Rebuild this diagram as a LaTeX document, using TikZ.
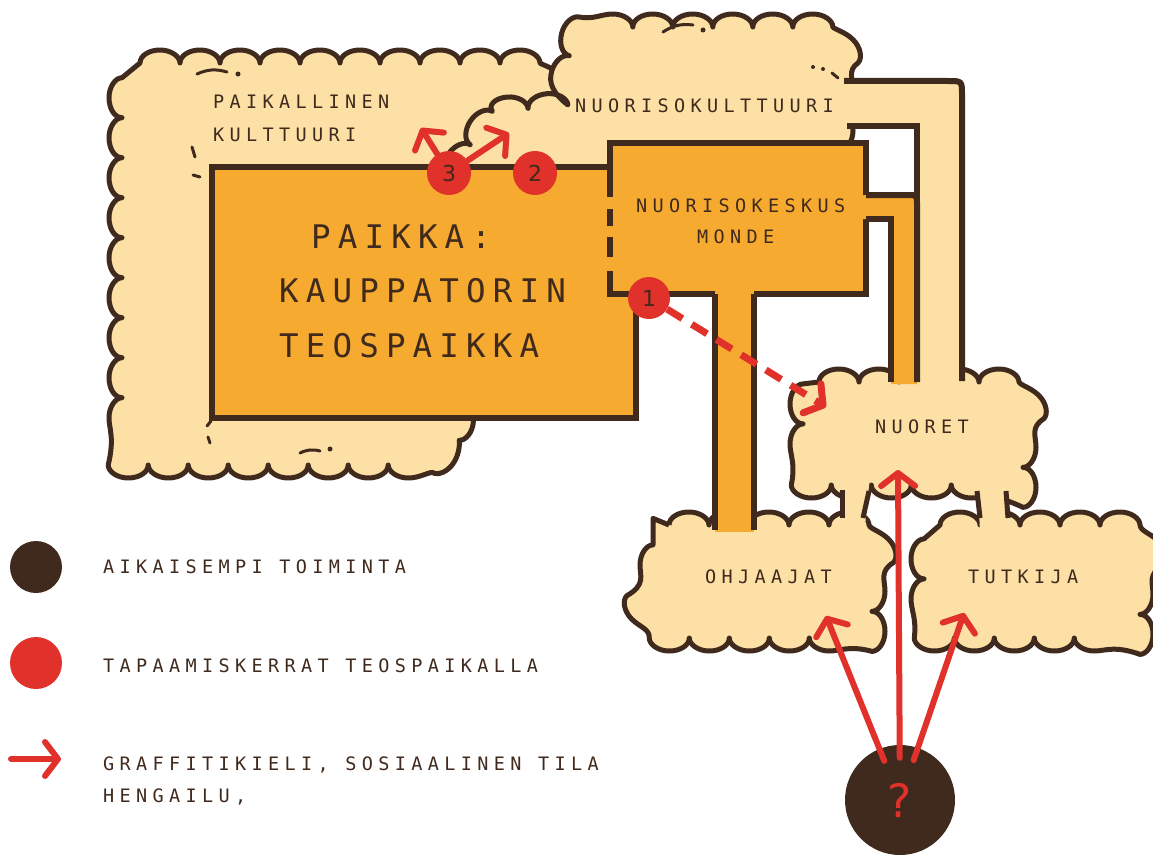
\documentclass[tikz,border=0pt]{standalone}
\usepackage{fontspec}
\usetikzlibrary{arrows.meta,decorations.pathmorphing,positioning}

\newfontfamily\smallfont[LetterSpace=29]{DejaVu Sans Mono}
\newfontfamily\bigfont[LetterSpace=22]{DejaVu Sans Mono}
\newfontfamily\numfont{DejaVu Sans}

\definecolor{darkbrown}{HTML}{3F2A1D}
\definecolor{cream}{HTML}{FDE0A6}
\definecolor{placeorange}{HTML}{F6AA30}
\definecolor{meetred}{HTML}{E0312B}

\tikzset{
  cloudpart/.style={fill=cream, draw=darkbrown, line width=5pt, line join=round,
    decoration={bumps, segment length=80pt, amplitude=13pt}, decorate},
  wall/.style={draw=darkbrown, line width=6pt},
  cloudmark/.style={draw=darkbrown, line width=3pt, line cap=round},
  lbl/.style={font=\smallfont\fontsize{18.5}{18.5}\selectfont, text=darkbrown, anchor=base west, inner sep=0pt},
  biglbl/.style={font=\bigfont\fontsize{32.5}{32.5}\selectfont, text=darkbrown, anchor=base west, inner sep=0pt},
  meeting/.style={circle, fill=meetred, minimum size=44pt, inner sep=0pt, text=darkbrown,
    font=\numfont\fontsize{22}{22}\selectfont},
  redarrow/.style={draw=meetred, line width=6pt, line cap=round,
    -{Straight Barb[length=13pt, width=34pt, round]}},
}

\begin{document}
\begin{tikzpicture}[x=1pt, y=-1pt]
\useasboundingbox (0,0) rectangle (1153,856);

% clouds
\path[cloudpart] (140,63) -- (530,63) -- (545,78) -- (545,200) -- (468,300) -- (460,428)
  -- (437,465) -- (145,465) -- (122,442) -- (122,82) -- cycle;
\path[cloudpart] (448,178) -- (476,136) -- (484,112) -- (556,106) -- (572,45) -- (588,27)
  -- (822,27) -- (840,45) -- (840,140) -- (842,200) -- (448,200) -- cycle;
\path[cloudpart] (819,382) -- (1007,382) -- (1023,398) -- (1023,469) -- (1007,485)
  -- (819,485) -- (803,469) -- (803,398) -- cycle;
\path[cloudpart] (669,525) -- (856,525) -- (872,541) -- (872,622) -- (856,638)
  -- (669,638) -- (653,622) -- (653,541) -- cycle;
\path[cloudpart] (940,525) -- (1124,525) -- (1140,541) -- (1140,622) -- (1124,638)
  -- (940,638) -- (924,622) -- (924,541) -- cycle;

% little marks in the clouds
\draw[cloudmark] (197,74) to[bend left=20] (227,72);
\fill[darkbrown] (238,74) circle (2.5pt);
\draw[cloudmark] (192,147) -- (195,157);
\draw[cloudmark] (193,175) -- (200,177);
\draw[cloudmark] (207,426) -- (211,421);
\draw[cloudmark] (208,437) -- (210,443);
\draw[cloudmark] (300,453) to[bend left=20] (320,451);
\fill[darkbrown] (330,449) circle (2.5pt);
\draw[cloudmark] (663,32) to[bend left=20] (693,25);
\fill[darkbrown] (703,30) circle (2.5pt);
\fill[darkbrown] (813,67) circle (2pt);
\fill[darkbrown] (823,69) circle (2pt);
\draw[cloudmark] (832,73) -- (838,78);

% legs between the clouds
\fill[cream] (842,476) -- (870,476) -- (864,536) -- (842,536) -- cycle;
\draw[wall, line width=5pt] (842,490) -- (842,518);
\draw[wall, line width=5pt] (869,491) -- (863,518);
\fill[cream] (978,476) -- (1007,476) -- (1009,536) -- (980,536) -- cycle;
\draw[wall, line width=5pt] (977,491) -- (980,518);
\draw[wall, line width=5pt] (1006,491) -- (1008,518);

% cream pipe
\fill[cream] (815,81) -- (948,81) .. controls (962,81) .. (962,95) -- (962,392)
  -- (917,392) -- (917,126) -- (815,126) -- cycle;
\draw[wall] (844,81) -- (948,81) .. controls (962,81) .. (962,95) -- (962,381);
\draw[wall] (847,126) -- (917,126) -- (917,381);

% place
\filldraw[fill=placeorange, wall] (212,167) rectangle (636,418);

% youth centre
\fill[placeorange] (610,143) rectangle (866,294);
\draw[wall] (610,197) -- (610,143) -- (866,143) -- (866,195);
\draw[wall] (866,219) -- (866,294) -- (754,294);
\draw[wall] (715,294) -- (610,294) -- (610,271);
\foreach \ya/\yb in {209/226,237/257}
  \draw[wall] (610,\ya) -- (610,\yb);

% orange pipe
\fill[placeorange] (862,195) -- (907,195) .. controls (917,195) .. (917,205)
  -- (917,384) -- (891,384) -- (891,219) -- (862,219) -- cycle;
\draw[wall] (866,195) -- (907,195) .. controls (917,195) .. (917,205) -- (917,382);
\draw[wall] (866,219) -- (891,219) -- (891,382);

% stem down to the leaders
\fill[placeorange] (715,290) rectangle (754,532);
\draw[wall] (715,294) -- (715,530);
\draw[wall] (754,294) -- (754,530);

% labels
\node[lbl] (paikallinen) at (213,109) {PAIKALLINEN};
\node[lbl] (kulttuuri) at (213,142) {KULTTUURI};
\node[lbl] (nuorisokult) at (575,113) {NUORISOKULTTUURI};
\node[lbl] (keskus) at (636,212) {NUORISOKESKUS};
\node[lbl] (monde) at (697,243) {MONDE};
\node[biglbl] (paikka) at (311,248) {PAIKKA:};
\node[biglbl] (kauppatori) at (279,302) {KAUPPATORIN};
\node[biglbl] (teospaikka) at (279,357) {TEOSPAIKKA};
\node[lbl] (nuoret) at (875,433) {NUORET};
\node[lbl] (ohjaajat) at (705,583) {OHJAAJAT};
\node[lbl] (tutkija) at (968,583) {TUTKIJA};

% meetings
\node[meeting] (m3) at (449,173) {3};
\node[meeting] (m2) at (535,173) {2};
\node[meeting, minimum size=42pt] (m1) at (649,298) {1};
\coordinate (m3left) at (421,128);
\coordinate (m3right) at (509,133);
\coordinate (m1end) at (826,407);
\draw[redarrow] (m3) -- (m3left);
\draw[redarrow] (m3) -- (m3right);
\draw[redarrow, dash pattern=on 18pt off 11pt, line cap=butt, line width=7pt] (m1) -- (m1end);

% earlier activity
\node[circle, fill=darkbrown, minimum size=110pt, inner sep=0pt, text=meetred,
  font=\numfont\fontsize{46}{46}\selectfont] (q) at (900,800) {?};
\coordinate (qohj) at (826,616);
\coordinate (qnuo) at (898,470);
\coordinate (qtut) at (964,613);
\draw[redarrow, shorten <=-13pt] (q) -- (qohj);
\draw[redarrow, shorten <=-13pt] (q) -- (qnuo);
\draw[redarrow, shorten <=-13pt] (q) -- (qtut);

% legend
\node[circle, fill=darkbrown, minimum size=52pt, inner sep=0pt] (legbrown) at (36,567) {};
\node[circle, fill=meetred, minimum size=52pt, inner sep=0pt] (legred) at (36,663) {};
\coordinate (legarrS) at (11,759);
\coordinate (legarrE) at (61,759);
\draw[redarrow] (legarrS) -- (legarrE);
\node[lbl] (legtext1) at (103,573) {AIKAISEMPI TOIMINTA};
\node[lbl] (legtext2) at (103,672) {TAPAAMISKERRAT TEOSPAIKALLA};
\node[lbl] (legtext3) at (103,770) {GRAFFITIKIELI, SOSIAALINEN TILA};
\node[lbl] (legtext4) at (103,802) {HENGAILU,};

\end{tikzpicture}
\end{document}
